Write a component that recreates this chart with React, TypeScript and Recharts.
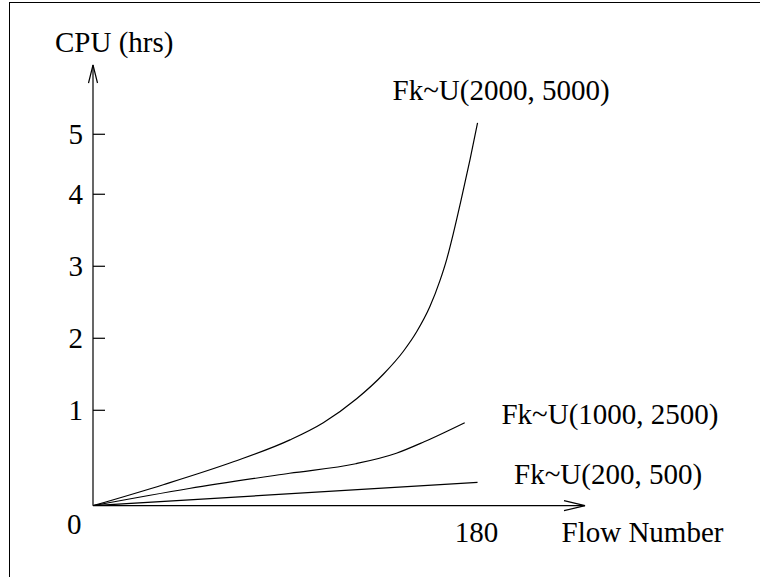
import React from 'react';
import { LineChart, Line, XAxis, YAxis } from 'recharts';

// Series: Fk~U(2000, 5000)
const topFlow = [0, 32.9, 65.7, 92.2, 107.8, 123.4, 135.9, 145.3, 151.5, 157.7, 162.4, 165.6, 168.7, 172.6, 176.5, 180];
const topCpu = [0, 0.22, 0.46, 0.69, 0.87, 1.16, 1.5, 1.82, 2.09, 2.44, 2.8, 3.1, 3.46, 3.96, 4.58, 5.19];
// Series: Fk~U(1000, 2500)
const midFlow = [0, 45, 92, 123, 142, 155, 174];
const midCpu = [0, 0.18, 0.34, 0.44, 0.55, 0.67, 0.87];
// Series: Fk~U(200, 500)
const lowFlow = [0, 180];
const lowCpu = [0, 0.245];

const seriesNames = ['Fk~U(2000, 5000)', 'Fk~U(1000, 2500)', 'Fk~U(200, 500)'];

// Y axis as drawn (hand-spaced ticks): hour values and their drawn positions
const yTickHours = [0, 1, 2, 3, 4, 5];
const yTickPositions = [0, 1.325, 2.325, 3.325, 4.325, 5.158];
const yAxisTop = 6.12;
const xTicks = [180];
const xAxisEnd = 230.3;

const FONT = "'Liberation Serif', 'Times New Roman', serif";
const FS = 29;

function toAxis(h: number): number {
  const k = yTickHours;
  const p = yTickPositions;
  let i = 0;
  while (i < k.length - 2 && h > k[i + 1]) i++;
  return p[i] + ((h - k[i]) * (p[i + 1] - p[i])) / (k[i + 1] - k[i]);
}

const build = (xs: number[], ys: number[]) =>
  xs.map((x, i) => ({ flow: x, cpu: ys[i], pos: toAxis(ys[i]) }));

const topData = build(topFlow, topCpu);
const midData = build(midFlow, midCpu);
const lowData = build(lowFlow, lowCpu);

const YTick = (props: any) => {
  const { x, y, payload } = props;
  let idx = 0;
  let best = Infinity;
  yTickPositions.forEach((p, i) => {
    const d = Math.abs(p - payload.value);
    if (d < best) {
      best = d;
      idx = i;
    }
  });
  const label = yTickHours[idx];
  if (label === 0) {
    return (
      <text x={x - 11.5} y={y + 28.5} textAnchor="end" fontFamily={FONT} fontSize={FS} fill="#000">
        0
      </text>
    );
  }
  return (
    <g>
      <line x1={x} x2={x + 12} y1={y} y2={y} stroke="#000" strokeWidth={1.2} />
      <text x={x - 10} y={y + 10} textAnchor="end" fontFamily={FONT} fontSize={FS} fill="#000">
        {label}
      </text>
    </g>
  );
};

const XTick = (props: any) => {
  const { x, y, payload } = props;
  return (
    <text x={x - 1} y={y + 36.5} textAnchor="middle" fontFamily={FONT} fontSize={FS} fill="#000">
      {payload.value}
    </text>
  );
};

const endLabel = (text: string, count: number, dx: number, dy: number) => (props: any) => {
  const { x, y, index } = props;
  if (index !== count - 1) return null;
  return (
    <text x={x + dx} y={y + dy} fontFamily={FONT} fontSize={FS} fill="#000">
      {text}
    </text>
  );
};

export default function App() {
  return (
    <div
      style={{
        position: 'absolute',
        left: 0,
        top: 0,
        width: 760,
        height: 577,
        overflow: 'hidden',
        background: '#fff',
      }}
    >
      <div
        style={{
          position: 'absolute',
          left: 9,
          top: 2,
          width: 900,
          height: 900,
          borderTop: '1.3px solid #000',
          borderLeft: '1.3px solid #000',
        }}
      />
      <div style={{ position: 'absolute', left: 0, top: 0 }}>
        <LineChart
          width={760}
          height={577}
          margin={{ top: 65, right: 175, bottom: 41.3, left: 0 }}
        >
          <defs>
            <marker
              id="arrowX"
              markerUnits="userSpaceOnUse"
              markerWidth={24}
              markerHeight={12}
              viewBox="0 0 24 12"
              refX={22}
              refY={6}
              orient="auto"
            >
              <path d="M1,1 L22,6 L1,11" fill="none" stroke="#000" strokeWidth={1.2} />
            </marker>
            <marker
              id="arrowY"
              markerUnits="userSpaceOnUse"
              markerWidth={21}
              markerHeight={11}
              viewBox="0 0 21 11"
              refX={19}
              refY={5.5}
              orient="auto-start-reverse"
            >
              <path d="M1,1 L19,5.5 L1,10" fill="none" stroke="#000" strokeWidth={1.2} />
            </marker>
          </defs>
          <XAxis
            dataKey="flow"
            type="number"
            domain={[0, xAxisEnd]}
            ticks={xTicks}
            allowDataOverflow
            height={30}
            tickLine={false}
            tickSize={0}
            tickMargin={0}
            tick={<XTick />}
            axisLine={{ stroke: '#000', strokeWidth: 1.2, markerEnd: 'url(#arrowX)' }}
            label={{
              content: (p: any) => {
                const vb = p.viewBox;
                return (
                  <text
                    x={vb.x + vb.width - 23.5}
                    y={vb.y + 36.5}
                    fontFamily={FONT}
                    fontSize={FS}
                    fill="#000"
                  >
                    Flow Number
                  </text>
                );
              },
            }}
          />
          <YAxis
            type="number"
            domain={[0, yAxisTop]}
            ticks={yTickPositions}
            allowDataOverflow
            width={93}
            tickLine={false}
            tickSize={0}
            tickMargin={0}
            tick={<YTick />}
            axisLine={{ stroke: '#000', strokeWidth: 1.2, markerStart: 'url(#arrowY)' }}
            label={{
              content: (p: any) => {
                const vb = p.viewBox;
                return (
                  <text
                    x={vb.x + vb.width - 38}
                    y={vb.y - 13.3}
                    fontFamily={FONT}
                    fontSize={FS}
                    fill="#000"
                  >
                    CPU (hrs)
                  </text>
                );
              },
            }}
          />
          <Line
            data={topData}
            dataKey="pos"
            type="monotone"
            stroke="#000"
            strokeWidth={1.2}
            dot={false}
            activeDot={false}
            isAnimationActive={false}
            label={endLabel(seriesNames[0], topData.length, -85, -23)}
          />
          <Line
            data={midData}
            dataKey="pos"
            type="monotone"
            stroke="#000"
            strokeWidth={1.2}
            dot={false}
            activeDot={false}
            isAnimationActive={false}
            label={endLabel(seriesNames[1], midData.length, 36.7, 1.5)}
          />
          <Line
            data={lowData}
            dataKey="pos"
            type="monotone"
            stroke="#000"
            strokeWidth={1.2}
            dot={false}
            activeDot={false}
            isAnimationActive={false}
            label={endLabel(seriesNames[2], lowData.length, 36.5, 1.6)}
          />
        </LineChart>
      </div>
    </div>
  );
}
